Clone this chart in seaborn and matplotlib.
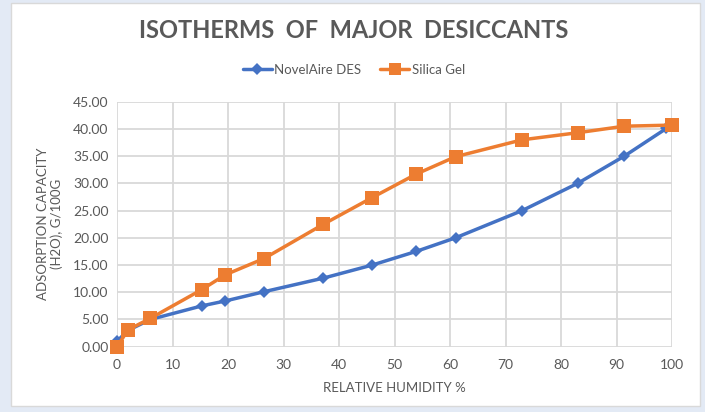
import pandas as pd
import matplotlib
matplotlib.use("Agg")
import matplotlib.pyplot as plt
from matplotlib.patches import Rectangle
from matplotlib.lines import Line2D
import seaborn as sns

# values
rh_novelaire = [0, 2, 6, 15.3, 19.5, 26.5, 37.2, 46, 53.9, 61, 73, 83, 91.4, 99]
cap_novelaire = [1.0, 3.0, 5.0, 7.5, 8.4, 10.1, 12.6, 15.0, 17.5, 20.0, 25.0, 30.0, 35.0, 40.1]
rh_silica = [0, 2, 6, 15.3, 19.5, 26.5, 37.2, 46, 53.9, 61, 73, 83, 91.4, 100]
cap_silica = [0.0, 3.1, 5.2, 10.5, 13.2, 16.2, 22.5, 27.4, 31.7, 34.9, 38.0, 39.3, 40.5, 40.7]
y_ticks = [0, 5, 10, 15, 20, 25, 30, 35, 40, 45]
x_ticks = [0, 10, 20, 30, 40, 50, 60, 70, 80, 90, 100]

df = pd.concat([
    pd.DataFrame({"rh": rh_novelaire, "cap": cap_novelaire, "series": "NovelAire DES"}),
    pd.DataFrame({"rh": rh_silica, "cap": cap_silica, "series": "Silica Gel"}),
])

sns.set_style("white")
plt.rcParams["font.family"] = ["Lato", "DejaVu Sans"]

txt = "#595959"
grid = "#d9d9d9"

fig = plt.figure(figsize=(7.05, 4.12), dpi=100, facecolor="#e3eaf5")
fig.patches.append(Rectangle((11 / 705, 6 / 412), 689 / 705, 403 / 412,
                             transform=fig.transFigure, facecolor="white",
                             edgecolor=grid, linewidth=1, zorder=-5))
ax = fig.add_axes([117 / 705, 1 - 346.7 / 412, 555 / 705, 245 / 412])
ax.set_facecolor("none")

sns.lineplot(data=df, x="rh", y="cap", hue="series", style="series",
             palette={"NovelAire DES": "#4472c4", "Silica Gel": "#ed7d31"},
             markers={"NovelAire DES": "D", "Silica Gel": "s"},
             dashes=False, linewidth=2.5, sort=False, ax=ax, legend=False)
for line, ms in zip(ax.lines, [6, 10]):
    line.set_markersize(ms)
    line.set_markeredgewidth(0)
    line.set_clip_on(False)

ax.set_xlim(0, 100)
ax.set_ylim(0, 45)
ax.set_xticks(x_ticks)
ax.set_yticks(y_ticks)
ax.set_yticklabels([f"{v:.2f}" for v in y_ticks])
ax.grid(True, color=grid, linewidth=1.3)
ax.set_axisbelow(True)
for s in ax.spines.values():
    s.set_visible(False)
ax.tick_params(axis="both", length=0, colors=txt, labelsize=10)
ax.tick_params(axis="x", pad=9)
ax.tick_params(axis="y", pad=6)

ax.set_xlabel("RELATIVE HUMIDITY %", color=txt, fontsize=9.5, labelpad=8)
ax.set_ylabel("ADSORPTION CAPACITY\n(H2O), G/100G", color=txt, fontsize=9.5, labelpad=7)

fig.text(0.502, 1 - 30 / 412, "ISOTHERMS  OF  MAJOR  DESICCANTS", ha="center", va="center",
         fontsize=17, fontweight="bold", color=txt)

handles = [Line2D([], [], color="#4472c4", lw=2.5, marker="D", ms=6, mew=0),
           Line2D([], [], color="#ed7d31", lw=2.5, marker="s", ms=8, mew=0)]
fig.legend(handles, ["NovelAire DES", "Silica Gel"], loc="center",
           bbox_to_anchor=(0.502, 1 - 70 / 412), ncol=2, frameon=False,
           fontsize=9.5, labelcolor=txt, handlelength=2.2, columnspacing=1.4,
           handletextpad=0.2)

fig.savefig("out.png", dpi=100, facecolor=fig.get_facecolor())
